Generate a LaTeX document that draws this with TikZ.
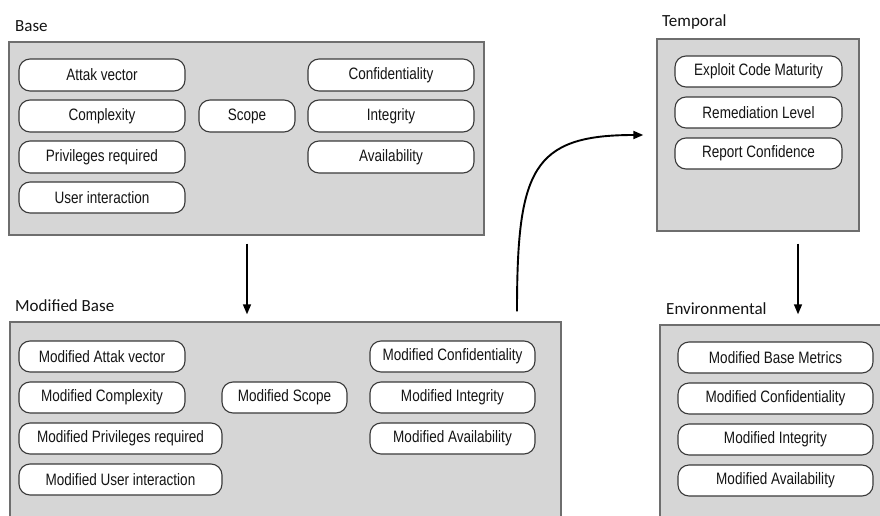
\documentclass[tikz,border=0pt]{standalone}
\usepackage{fontspec}
\setmainfont{Liberation Sans}
\newfontfamily\pillfont{Liberation Sans}[FakeStretch=0.82]
\newfontfamily\labelfont{Carlito}
\usetikzlibrary{arrows.meta}
\definecolor{boxfill}{HTML}{D6D6D6}
\definecolor{boxline}{HTML}{6E6E6E}
\definecolor{pillline}{HTML}{3A3A3A}
\definecolor{txt}{HTML}{141414}
\tikzset{
  panel/.style={draw=boxline, line width=1.4pt, fill=boxfill, rectangle, inner sep=0pt},
  pill/.style={draw=pillline, line width=1.1pt, fill=white, rounded corners=11pt, inner sep=0pt,
    text=txt, font=\pillfont\fontsize{16.5}{18}\selectfont},
  grouplabel/.style={anchor=base west, inner sep=0pt, text=txt, font=\labelfont\fontsize{17}{20}\selectfont},
  flow/.style={-{Triangle[length=10pt,width=8pt]}, line width=1.6pt, black},
}
\newcommand{\pillnode}[6]{%
  \node[pill, minimum width={(#4-#2)*1pt}, minimum height={(#5-#3)*1pt}] (#1) at ({(#2+#4)/2},{(#3+#5)/2}) {#6};}
\newcommand{\panelnode}[5]{%
  \node[panel, minimum width={(#4-#2)*1pt}, minimum height={(#5-#3)*1pt}] (#1) at ({(#2+#4)/2},{(#3+#5)/2}) {};}
\begin{document}
\begin{tikzpicture}[x=1pt,y=-1pt]
\useasboundingbox (0,0) rectangle (880,516);
\clip (0,0) rectangle (880,516);
\fill[white] (0,0) rectangle (880,516);

% group labels
\node[grouplabel] (lbase) at (15,32) {Base};
\node[grouplabel] (ltemp) at (662,27) {Temporal};
\node[grouplabel] (lmod) at (15,311) {Modified Base};
\node[grouplabel] (lenv) at (666,314) {Environmental};

% panels
\panelnode{base}{9}{42}{484}{235}
\panelnode{mod}{10}{322}{561}{530}
\panelnode{temp}{657}{39}{859}{231}
\panelnode{env}{660}{325}{900}{530}

% base metrics
\pillnode{att}{19}{59}{185}{91}{Attak vector}
\pillnode{cmp}{19}{100}{185}{132}{Complexity}
\pillnode{prv}{19}{141}{185}{173}{Privileges required}
\pillnode{usr}{19}{182}{185}{213}{User interaction}
\pillnode{scp}{199}{100}{295}{132}{Scope}
\pillnode{con}{308}{59}{474}{91}{Confidentiality}
\pillnode{int}{308}{100}{474}{132}{Integrity}
\pillnode{ava}{308}{141}{474}{173}{Availability}

% modified base metrics
\pillnode{matt}{19}{341}{185}{372}{Modified Attak vector}
\pillnode{mcmp}{19}{382}{185}{413}{Modified Complexity}
\pillnode{mprv}{19}{423}{222}{454}{Modified Privileges required}
\pillnode{musr}{19}{464}{222}{495}{Modified User interaction}
\pillnode{mscp}{222}{382}{347}{413}{Modified Scope}
\pillnode{mcon}{370}{341}{535}{372}{Modified Confidentiality}
\pillnode{mint}{370}{382}{535}{413}{Modified Integrity}
\pillnode{mava}{370}{423}{535}{454}{Modified Availability}

% temporal metrics
\pillnode{ecm}{675}{56}{842}{87}{Exploit Code Maturity}
\pillnode{rem}{675}{97}{842}{128}{Remediation Level}
\pillnode{rep}{675}{138}{842}{169}{Report Confidence}

% environmental metrics
\pillnode{mbm}{678}{342}{873}{373}{Modified Base Metrics}
\pillnode{mec}{678}{383}{873}{414}{Modified Confidentiality}
\pillnode{mei}{678}{424}{873}{455}{Modified Integrity}
\pillnode{mea}{678}{465}{873}{496}{Modified Availability}

% connectors
\coordinate (c1) at (247,0);
\coordinate (c2) at (798,0);
\coordinate (c3) at (517,0);
\draw[flow, shorten <=8pt, shorten >=7pt] (base.south -| c1) -- (mod.north -| c1);
\draw[flow, shorten <=12pt, shorten >=10pt] (temp.south -| c2) -- (env.north -| c2);
\draw[flow, line width=1.9pt, shorten <=10pt, shorten >=13pt]
  (mod.north -| c3) .. controls (517,170) and (532,135) .. (temp.west);
\end{tikzpicture}
\end{document}
